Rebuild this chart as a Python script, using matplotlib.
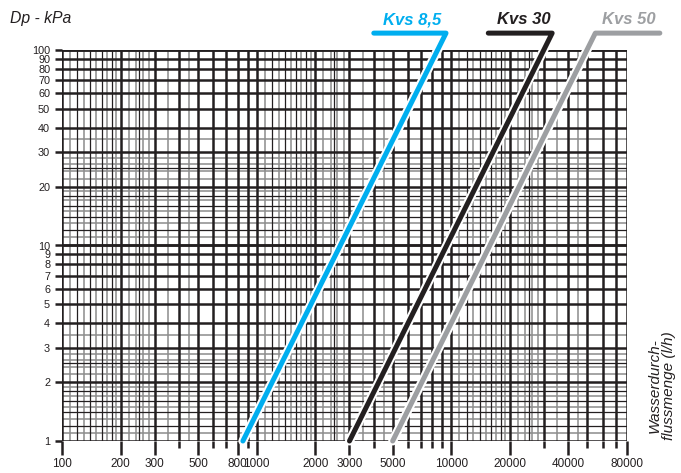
import matplotlib
matplotlib.use("Agg")
import matplotlib.pyplot as plt
import matplotlib.patheffects as pe
import numpy as np

plt.rcParams["font.family"] = ["Liberation Sans", "DejaVu Sans"]

# ---------------- data ----------------
kvs_labels = ["Kvs 8,5", "Kvs 30", "Kvs 50"]
kvs_colors = ["#00aeef", "#231f20", "#9d9fa2"]
dp_ends = [1, 122]                      # kPa (bottom, top of each line)
flow_kvs85 = [850, 9400]                # l/h at dp_ends
flow_kvs30 = [3000, 33000]
flow_kvs50 = [5000, 55000]
leader_end_flow = [4000, 15500, 118000]  # end of the horizontal leader
label_x_px = [412, 524, 629]

x_tick_values = [100, 200, 300, 500, 800, 1000, 2000, 3000, 5000,
                 10000, 20000, 40000, 80000]
y_tick_values = [1, 2, 3, 4, 5, 6, 7, 8, 9, 10,
                 20, 30, 40, 50, 60, 70, 80, 90, 100]

# ---------------- figure ----------------
W, H = 681, 473
fig = plt.figure(figsize=(W / 100, H / 100), dpi=100)
ax = fig.add_axes([62 / W, (H - 441) / H, 565 / W, 391 / H])
ax.set_xscale("log")
ax.set_yscale("log")
ax.set_xlim(100, 80000)
ax.set_ylim(1, 100)
for s in ax.spines.values():
    s.set_visible(False)

BLACK = "#231f20"
GRAY = "#8c8c8c"

major_mult = [1, 2, 3, 4, 5, 6, 7, 8, 9]
black_minor_mult = [1.2, 1.4, 1.6, 1.8, 2.5]
gray_minor_x = [1.1, 1.3, 1.5, 1.7, 1.9, 2.2, 2.4, 2.6, 2.8, 3.5, 4.5]
gray_minor_y = [1.1, 1.3, 1.5, 1.7, 1.9, 2.2, 2.4, 2.6, 2.8, 3.5]

def decade_values(mults, decades, lo, hi):
    out = []
    for d in decades:
        for m in mults:
            v = m * 10 ** d
            if lo - 1e-9 <= v <= hi + 1e-9:
                out.append(v)
    return out

xd = [2, 3, 4]
yd = [0, 1, 2]
xlo, xhi = 100, 80000
ylo, yhi = 1, 100

# gray minors
for v in decade_values(gray_minor_x, xd, xlo, xhi):
    ax.axvline(v, color=GRAY, lw=1.1, zorder=1)
for v in decade_values(gray_minor_y, yd, ylo, yhi):
    ax.axhline(v, color=GRAY, lw=1.1, zorder=1)
# black minors
for v in decade_values(black_minor_mult, xd, xlo, xhi):
    ax.axvline(v, color=BLACK, lw=0.9, zorder=2)
for v in decade_values(black_minor_mult, yd, ylo, yhi):
    ax.axhline(v, color=BLACK, lw=0.9, zorder=2)
# majors
for v in decade_values(major_mult, xd, xlo, xhi):
    ax.axvline(v, color=BLACK, lw=1.8, zorder=3)
for v in decade_values(major_mult + [10], yd, ylo, yhi):
    ax.axhline(v, color=BLACK, lw=1.8, zorder=3)

# ticks
ax.set_xticks(x_tick_values)
ax.set_xticklabels([str(v) for v in x_tick_values])
ax.set_xticks([v for v in decade_values(major_mult, xd, xlo, xhi)
               if v not in x_tick_values], minor=True)
ax.set_xticklabels([], minor=True)
ax.set_yticks(y_tick_values)
ax.set_yticklabels([str(v) for v in y_tick_values])
ax.set_yticks([], minor=True)
ax.tick_params(axis="x", which="major", length=10, width=1.8, color=BLACK,
               pad=2, labelsize=8.5, labelcolor=BLACK)
ax.tick_params(axis="x", which="minor", length=5, width=1.8, color=BLACK)
ax.tick_params(axis="y", which="major", length=5, width=1.8, color=BLACK,
               pad=3.5, labelsize=7.8, labelcolor=BLACK)

# Kvs lines
flows = [flow_kvs85, flow_kvs30, flow_kvs50]
for i, (f, c) in enumerate(zip(flows, kvs_colors)):
    xs = [f[0], f[1], leader_end_flow[i]]
    ys = [dp_ends[0], dp_ends[1], dp_ends[1]]
    ax.plot(xs, ys, color=c, lw=3.6, solid_capstyle="round",
            solid_joinstyle="round", clip_on=False, zorder=10,
            path_effects=[pe.Stroke(linewidth=6.5, foreground="white"),
                          pe.Normal()])
    fig.text(label_x_px[i] / W, 1 - 20 / H, kvs_labels[i], color=c,
             fontsize=12, fontweight="bold", fontstyle="italic",
             ha="center", va="center")

fig.text(10 / W, 1 - 18 / H, "Dp - kPa", fontsize=11.3, fontstyle="italic",
         color=BLACK, ha="left", va="center")
fig.text(662 / W, 1 - 440 / H, "Wasserdurch-\nflussmenge (l/h)", fontsize=11,
         fontstyle="italic", color=BLACK, rotation=90, ha="center",
         va="bottom", multialignment="center", linespacing=1.0)

fig.savefig("out.png", dpi=100)
